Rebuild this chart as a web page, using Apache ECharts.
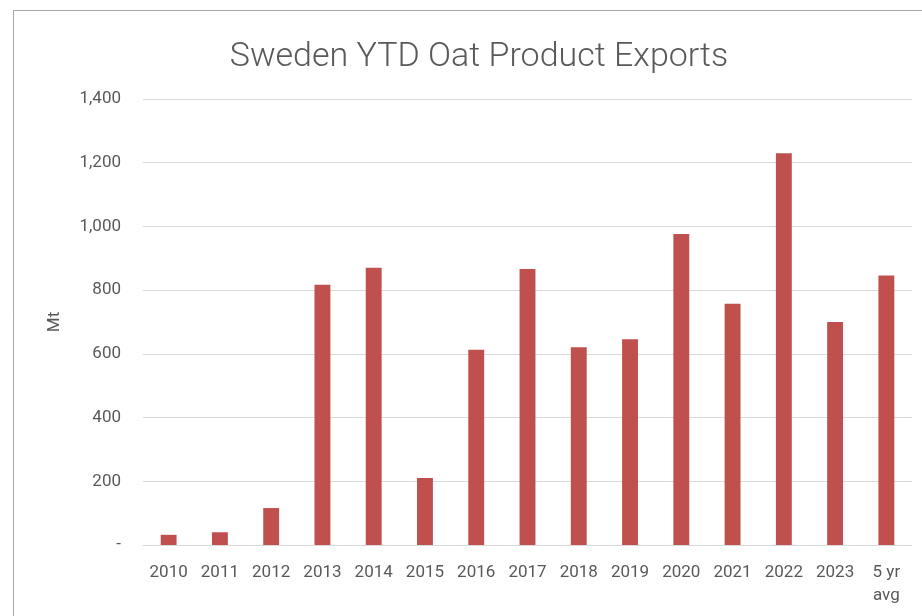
<!DOCTYPE html>
<html>
<head>
<meta charset="utf-8">
<script src="https://cdn.jsdelivr.net/npm/echarts@6/dist/echarts.min.js"></script>
<style>
  html, body { margin:0; padding:0; background:#fff; }
  #chart { width:922px; height:616px; }
</style>
</head>
<body>
<div id="chart"></div>
<script>

const years = ["2010","2011","2012","2013","2014","2015","2016","2017","2018","2019","2020","2021","2022","2023","5 yr\navg"];
const exports = [32, 40, 116, 817, 870, 210, 613, 866, 621, 646, 976, 757, 1230, 700, 846];
const yTicks = { min: 0, max: 1400, step: 200 };


/*
==========================
Sweden oat exports bar
==========================
*/

const chart = echarts.init(document.getElementById("chart"));

chart.setOption({

    animation:false,

    textStyle:{
        fontFamily:"Roboto"
    },

    graphic:[
        {
            type:"rect",
            shape:{ x:13.5, y:10.5, width:1000, height:700 },
            style:{ fill:"none", stroke:"#a6a6a6", lineWidth:1 },
            silent:true
        }
    ],

    title:{
        text:"Sweden YTD Oat Product Exports",
        left:474,
        top:35,
        textAlign:"center",
        textStyle:{
            fontSize:34,
            fontWeight:300,
            color:"#595959",
            fontFamily:"Roboto"
        }
    },

    grid:{
        left:143,
        right:10,
        top:99,
        bottom:71
    },

    xAxis:{
        type:"category",
        data:years,
        axisTick:{ show:false },
        axisLine:{ lineStyle:{ color:"#d9d9d9", width:1 } },
        axisLabel:{
            color:"#595959",
            fontSize:17,
            margin:16,
            lineHeight:23,
            interval:0
        }
    },

    yAxis:{
        type:"value",
        min:yTicks.min,
        max:yTicks.max,
        interval:yTicks.step,
        name:"Mt",
        nameLocation:"middle",
        nameGap:80,
        nameTextStyle:{ color:"#595959", fontSize:17 },
        axisLine:{ show:false },
        axisTick:{ show:false },
        splitLine:{ lineStyle:{ color:"#d9d9d9", width:1 } },
        axisLabel:{
            color:"#595959",
            fontSize:17,
            margin:22,
            formatter:function(v){
                return v === 0 ? "-" : v.toLocaleString("en-US");
            }
        }
    },

    series:[
        {
            name:"Exports",
            type:"bar",
            data:exports,
            barWidth:"31%",
            itemStyle:{ color:"#C0504D" }
        }
    ]

});

</script>
</body>
</html>
